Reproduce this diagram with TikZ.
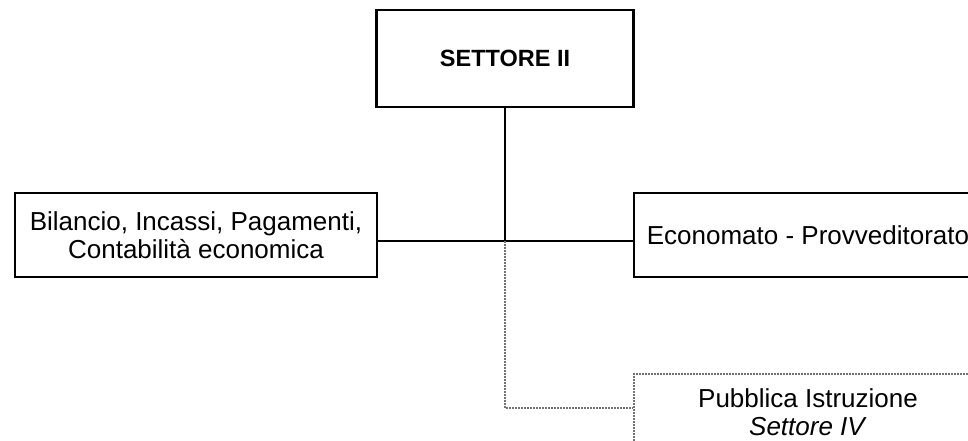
\documentclass[tikz,border=0pt]{standalone}
\usepackage{fontspec}
\setmainfont{Liberation Sans}
\begin{document}
\begin{tikzpicture}[x=1pt,y=-1pt]
\tikzset{ufficio/.style={rectangle, draw, line width=2.5pt, align=center, font=\fontsize{26}{28}\selectfont}}
\tikzset{tratteggio/.style={draw=black!55, line width=2.5pt, dash pattern=on 2pt off 1pt}}
\useasboundingbox (0,0) rectangle (968,441);
\clip (0,0) rectangle (968,441);
\node[ufficio, minimum width=257pt, minimum height=97pt, font=\fontsize{23.5}{26}\selectfont\bfseries] (set2) at (505,58.5){SETTORE II};
\node[ufficio, minimum width=362pt, minimum height=84pt] (bil) at (196,235){Bilancio, Incassi, Pagamenti,\\Contabilità economica};
\node[ufficio, minimum width=348pt, minimum height=84pt] (eco) at (808,235){Economato - Provveditorato};
\node[ufficio, tratteggio, minimum width=348pt, minimum height=76pt] (pub) at (808,412){Pubblica Istruzione\\\textit{Settore IV}};
\coordinate (nodo1) at (505,241);
\coordinate (nodo2) at (505,408);
\draw[line width=2pt](set2) -- (nodo1);
\draw[line width=2pt](bil.east |- nodo1) -- (nodo1) -- (eco.west |- nodo1);
\draw[tratteggio](nodo1) -- (nodo2) -- (pub.west |- nodo2);
\end{tikzpicture}
\end{document}
